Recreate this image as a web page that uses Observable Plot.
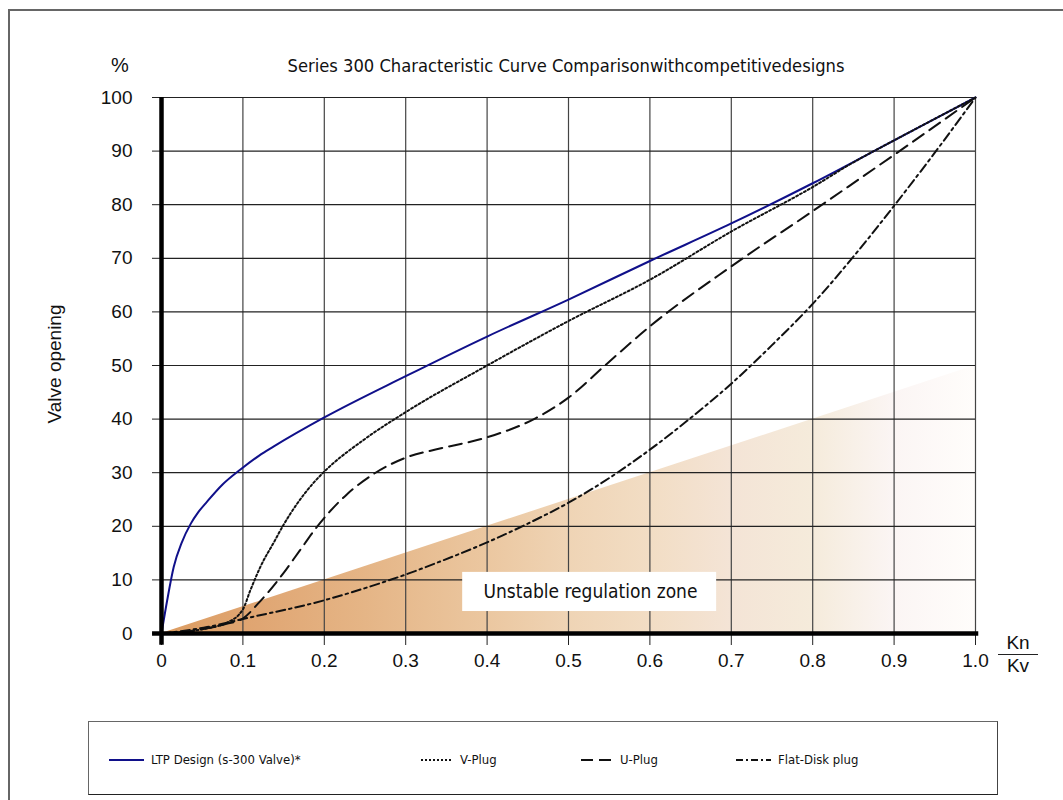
<!DOCTYPE html>
<html>
<head>
<meta charset="utf-8">
<script src="https://cdn.jsdelivr.net/npm/d3@7"></script>
<script src="https://cdn.jsdelivr.net/npm/@observablehq/plot@0.6"></script>
<style>
  html, body { margin: 0; padding: 0; background: #fff; overflow: hidden; }
  #page { position: relative; width: 1063px; height: 800px; overflow: hidden; }
  #frame { position: absolute; left: 8px; top: 9px; width: 1200px; height: 1000px;
           border-left: 2px solid #666; border-top: 2px solid #666; }
  .narrow { font-family: "Liberation Sans Narrow", "DejaVu Sans Condensed", "Roboto", sans-serif; font-stretch: condensed; }
  .reg { font-family: "Liberation Sans", Arial, sans-serif; }
  #title { position: absolute; top: 55px; left: 0; width: 1132px; text-align: center; font-size: 18.2px; color: #111; white-space: nowrap; }
  #pct { position: absolute; top: 54px; left: 111px; font-size: 20px; color: #111; }
  #ylab { position: absolute; left: 55px; top: 364px; font-size: 19px; color: #111; transform: translate(-50%, -50%) rotate(-90deg); white-space: nowrap; }
  #kn { position: absolute; left: 998px; top: 632px; width: 40px; text-align: center; font-size: 19px; color: #111; line-height: 22px; }
  #kn .num { border-bottom: 1.5px solid #222; padding-bottom: 0px; }
  #chart { position: absolute; left: 0; top: 0; }
  #legend { position: absolute; left: 88px; top: 721px; width: 908px; height: 72px;
            border: 1.5px solid #666; border-bottom-color: #222; border-right-color: #444; background: #fff; }
  .item { position: absolute; top: 30px; display: flex; align-items: center; font-size: 13px; color: #111; white-space: nowrap; }
  .item svg { margin-right: 7px; }
</style>
</head>
<body>
<div id="page">
  <div id="frame"></div>
  <div id="chart"></div>
  <div id="pct" class="reg">%</div>
  <div id="title" class="narrow">Series 300 Characteristic Curve Comparisonwithcompetitivedesigns</div>
  <div id="ylab" class="reg">Valve opening</div>
  <div id="kn" class="reg"><div class="num">Kn</div><div>Kv</div></div>
  <div id="legend" class="narrow"></div>
</div>
<script>
// ---- tick labels / categories ----
const xTicks = [0, 0.1, 0.2, 0.3, 0.4, 0.5, 0.6, 0.7, 0.8, 0.9, 1.0];
const xTickLabels = ["0", "0.1", "0.2", "0.3", "0.4", "0.5", "0.6", "0.7", "0.8", "0.9", "1.0"];
const yTicks = [0, 10, 20, 30, 40, 50, 60, 70, 80, 90, 100];
const seriesNames = ["LTP Design (s-300 Valve)*", "V-Plug", "U-Plug", "Flat-Disk plug"];

// ---- series values (Kn/Kv, valve opening %) ----
const ltpX = [0, 0.007, 0.015, 0.025, 0.036, 0.045, 0.056, 0.075, 0.097, 0.12, 0.138, 0.2, 0.3, 0.4, 0.5, 0.6, 0.7, 0.8, 0.9, 1.0];
const ltpY = [0, 6.2, 12.4, 17, 20.5, 22.6, 24.6, 27.8, 30.6, 33.2, 34.9, 40.3, 48, 55.4, 62.3, 69.5, 76.5, 84, 92, 100];

const vPlugX = [0, 0.05, 0.08, 0.1, 0.109, 0.122, 0.138, 0.15, 0.167, 0.185, 0.2, 0.25, 0.3, 0.4, 0.5, 0.6, 0.7, 0.8, 0.85, 0.9, 1.0];
const vPlugY = [0, 0.8, 2.0, 4.5, 8, 12.6, 17, 20.3, 24.3, 27.8, 30.2, 36.3, 41.3, 50, 58.3, 66, 75, 83.3, 87.9, 92, 100];

const uPlugX = [0, 0.05, 0.08, 0.1, 0.12, 0.146, 0.17, 0.191, 0.228, 0.261, 0.3, 0.342, 0.4, 0.46, 0.5, 0.547, 0.6, 0.7, 0.8, 0.9, 1.0];
const uPlugY = [0, 0.8, 1.8, 2.8, 5.8, 10.5, 15.5, 19.9, 26, 29.8, 32.8, 34.5, 36.6, 40.2, 44, 50.3, 57.3, 68.5, 78.8, 89.3, 100];

const flatX = [0, 0.056, 0.1, 0.2, 0.273, 0.3, 0.335, 0.4, 0.45, 0.5, 0.55, 0.6, 0.65, 0.7, 0.75, 0.8, 0.85, 0.9, 0.95, 1.0];
const flatY = [0, 1.2, 2.7, 6.2, 9.6, 11.0, 13, 17.0, 20.5, 24.4, 29, 34.3, 40.2, 46.6, 53.8, 61.5, 70.3, 79.8, 89.7, 100];

// unstable regulation zone (triangle edge)
const zoneX = [0, 1.0];
const zoneY = [0, 50];
const zoneLabel = "Unstable regulation zone";

// ---- build tables ----
const toRows = (xs, ys) => xs.map((x, i) => ({x, y: ys[i]}));
const ltp = toRows(ltpX, ltpY);
const vPlug = toRows(vPlugX, vPlugY);
const uPlug = toRows(uPlugX, uPlugY);
const flat = toRows(flatX, flatY);
const zone = toRows(zoneX, zoneY);

const styles = [
  {stroke: "#10108a", dash: null, width: 2},
  {stroke: "#111", dash: "2,2.4", width: 2},
  {stroke: "#111", dash: "13,7", width: 2},
  {stroke: "#111", dash: "9,4,2.5,4", width: 2}
];
const seriesData = [ltp, vPlug, uPlug, flat];

const NARROW = '"Liberation Sans Narrow", "DejaVu Sans Condensed", Roboto, sans-serif';

const chart = Plot.plot({
  width: 1063,
  height: 700,
  marginLeft: 161,
  marginRight: 88,
  marginTop: 97,
  marginBottom: 67,
  style: {fontFamily: '"Liberation Sans", Arial, sans-serif', fontSize: "19px", color: "#111", background: "transparent"},
  x: {domain: [0, 1], ticks: xTicks},
  y: {domain: [0, 100], ticks: yTicks},
  marks: [
    Plot.areaY(zone, {x: "x", y: "y", fill: "url(#zoneGrad)"}),
    Plot.ruleX(xTicks.slice(1), {y1: 0, y2: 100, stroke: "#444", strokeWidth: 1.2}),
    Plot.ruleY(yTicks.slice(1), {x1: 0, x2: 1, stroke: "#222", strokeWidth: 1.2}),
    Plot.axisX({ticks: xTicks, tickFormat: (d, i) => xTickLabels[i], tickSize: 12, tickPadding: 8, stroke: "#222", label: null}),
    Plot.axisY({ticks: yTicks, tickSize: 9, tickPadding: 20, stroke: "#222", label: null}),
    Plot.rect([zoneLabel], {x1: 0.37, x2: 0.682, y1: 4.1, y2: 11.4, fill: "white"}),
    Plot.text([zoneLabel], {x: 0.527, y: 7.8, text: d => d, fontFamily: NARROW, fontSize: 19, fill: "#111"}),
    ...seriesData.map((data, i) => Plot.line(data, {
      x: "x", y: "y", curve: "monotone-x",
      stroke: styles[i].stroke, strokeWidth: styles[i].width,
      strokeDasharray: styles[i].dash
    })),
    Plot.ruleY([0], {x1: -0.011, x2: 1.004, stroke: "#000", strokeWidth: 4.5}),
    Plot.ruleX([0], {y1: -2.2, y2: 100, stroke: "#000", strokeWidth: 4.5})
  ]
});

// gradient definition for the unstable zone
const svg = d3.select(chart);
const grad = svg.insert("defs", ":first-child").append("linearGradient")
  .attr("id", "zoneGrad").attr("x1", "0").attr("x2", "1").attr("y1", "0").attr("y2", "0");
[
  [0.0, "#dc9d62"], [0.12, "#e0a673"], [0.25, "#e5b586"], [0.4, "#ebc7a0"],
  [0.5, "#efd4b5"], [0.6, "#f2ddc4"], [0.7, "#f4e4d6"], [0.8, "#f5ebdb"],
  [0.9, "#fbf5f4"], [1.0, "#fffdfb"]
].forEach(([o, c]) => grad.append("stop").attr("offset", o).attr("stop-color", c));

document.getElementById("chart").appendChild(chart);

// legend
const legend = d3.select("#legend");
const legendPos = [20, 332, 492, 647];
const legendLen = [35, 32, 32, 35];
seriesNames.forEach((name, i) => {
  const item = legend.append("div").attr("class", "item").style("left", legendPos[i] + "px");
  const s = item.append("svg").attr("width", legendLen[i]).attr("height", 6);
  s.append("line").attr("x1", 0).attr("x2", legendLen[i]).attr("y1", 3).attr("y2", 3)
    .attr("stroke", styles[i].stroke).attr("stroke-width", 2)
    .attr("stroke-dasharray", i === 1 ? "2,2" : i === 2 ? "12,6" : i === 3 ? "7,3,2,3" : null);
  item.append("span").text(name);
});
</script>
</body>
</html>
